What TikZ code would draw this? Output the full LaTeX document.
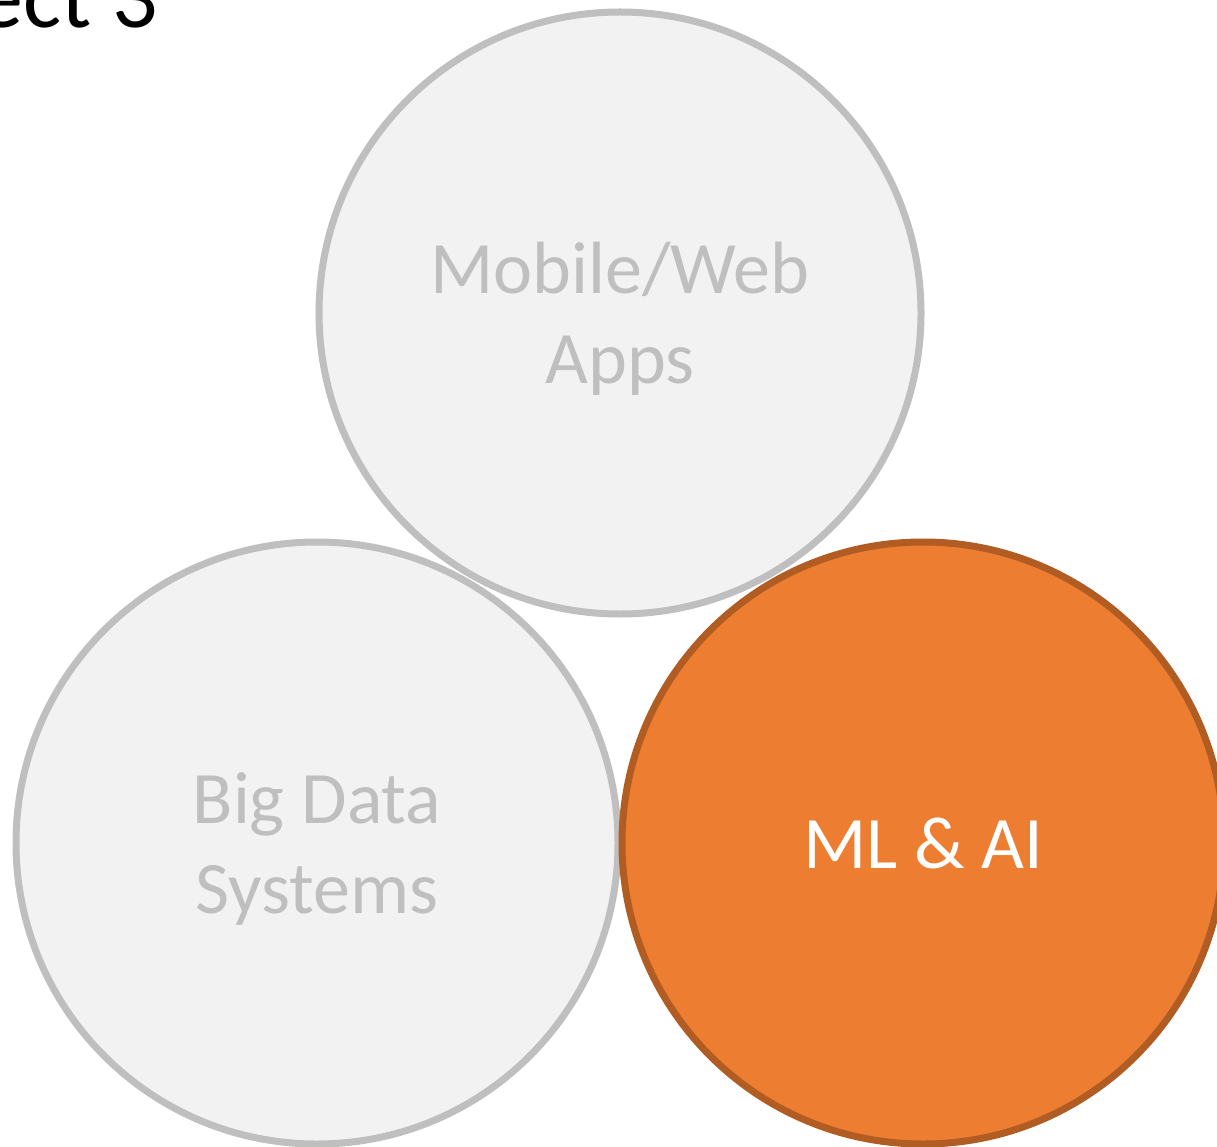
\documentclass[tikz,border=0pt]{standalone}
\usepackage{fontspec}
\setmainfont{Carlito}
\definecolor{cfill}{HTML}{F2F2F2}
\definecolor{cline}{HTML}{BFBFBF}
\definecolor{ctext}{HTML}{BFBFBF}
\definecolor{orfill}{HTML}{ED7D31}
\definecolor{orline}{HTML}{B15C22}
\tikzset{
  graycirc/.style={circle, minimum size=602pt, inner sep=0pt, fill=cfill},
  grayring/.style={draw=cline, line width=7pt},
  orcirc/.style={circle, minimum size=602pt, inner sep=0pt, fill=orfill, draw=orline, line width=7pt},
  lbl/.style={font=\fontsize{74}{90}\selectfont, align=center, text=ctext, inner sep=0pt},
  wlbl/.style={font=\fontsize{74}{90}\selectfont, align=center, text=white, inner sep=0pt},
  ttl/.style={font=\fontsize{90}{100}\selectfont, text=black, inner sep=0pt}
}
\begin{document}
\begin{tikzpicture}[x=1pt,y=-1pt]
\useasboundingbox (0,0) rectangle (1217,1147);
\clip (0,0) rectangle (1217,1147);
\node[graycirc] (mw) at (620,313) {};
\node[graycirc] (bd) at (317,843) {};
\draw[grayring] (mw.center) circle[radius=301pt];
\draw[grayring] (bd.center) circle[radius=301pt];
\node[orcirc] (ml) at (923,843) {};
\node[lbl, anchor=base] (mwt) at (620,383) {Mobile/Web\\Apps};
\node[lbl, anchor=base] (bdt) at (317,913) {Big Data\\Systems};
\node[wlbl, anchor=base] (mlt) at (923,868) {ML \& AI};
\node[ttl, anchor=base east] (title) at (158,28) {ect 3};
\end{tikzpicture}
\end{document}
